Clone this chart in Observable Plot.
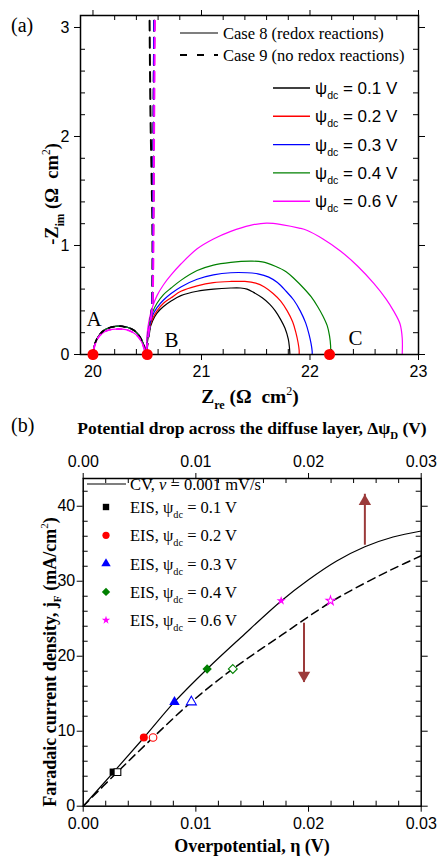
<!DOCTYPE html>
<html><head><meta charset="utf-8">
<script src="https://cdn.jsdelivr.net/npm/d3@7"></script>
<script src="https://cdn.jsdelivr.net/npm/@observablehq/plot@0.6"></script>
<style>
body{margin:0;background:#fff}
#wrap{position:relative;width:437px;height:857px;overflow:hidden}
#wrap svg{position:absolute;left:0}
text{white-space:pre}
</style>
</head><body><div id="wrap"></div>
<script>
// ---------- DATA ----------
// panel (a) ticks
const zreTicks = [20, 21, 22, 23];
const zimTicks = [0, 1, 2, 3];
const psiLabels = ["0.1", "0.2", "0.3", "0.4", "0.6"];
// small (bulk) arc
const arcSmall = [[20.00,0],[20.01,0.07],[20.03,0.13],[20.06,0.18],[20.10,0.22],[20.15,0.245],[20.21,0.258],[20.27,0.258],[20.33,0.245],[20.38,0.22],[20.42,0.18],[20.45,0.13],[20.47,0.08],[20.485,0.03],[20.49,0.01]];
const arcSmallMag = [[20.00,0],[20.01,0.06],[20.03,0.12],[20.06,0.17],[20.10,0.205],[20.15,0.225],[20.21,0.233],[20.27,0.232],[20.33,0.22],[20.38,0.195],[20.42,0.16],[20.45,0.11],[20.47,0.06],[20.48,0.02]];
// Case 8 (redox reactions) large arcs
const arc01 = [[20.50,0.10],[20.52,0.22],[20.55,0.31],[20.59,0.38],[20.65,0.44],[20.72,0.49],[20.81,0.54],[20.96,0.58],[21.11,0.60],[21.27,0.61],[21.36,0.61],[21.42,0.60],[21.48,0.57],[21.56,0.52],[21.63,0.46],[21.68,0.40],[21.73,0.32],[21.77,0.24],[21.80,0.14],[21.81,0.07],[21.815,0]];
const arc02 = [[20.50,0.12],[20.52,0.24],[20.55,0.33],[20.59,0.40],[20.65,0.47],[20.72,0.52],[20.81,0.58],[20.96,0.63],[21.11,0.66],[21.27,0.67],[21.40,0.67],[21.50,0.655],[21.58,0.62],[21.66,0.56],[21.73,0.49],[21.79,0.40],[21.84,0.30],[21.87,0.20],[21.89,0.11],[21.90,0.04],[21.90,0]];
const arc03 = [[20.50,0.14],[20.52,0.26],[20.55,0.36],[20.59,0.43],[20.65,0.50],[20.72,0.56],[20.81,0.62],[20.96,0.69],[21.11,0.73],[21.27,0.75],[21.42,0.75],[21.52,0.74],[21.62,0.71],[21.70,0.66],[21.78,0.58],[21.85,0.50],[21.91,0.40],[21.96,0.29],[21.99,0.19],[22.01,0.10],[22.02,0.03],[22.02,0]];
const arc04 = [[20.50,0.16],[20.52,0.29],[20.55,0.39],[20.59,0.47],[20.65,0.55],[20.72,0.61],[20.81,0.68],[20.96,0.77],[21.11,0.82],[21.27,0.845],[21.45,0.856],[21.56,0.85],[21.68,0.81],[21.78,0.76],[21.86,0.69],[21.94,0.61],[22.01,0.53],[22.07,0.44],[22.12,0.35],[22.16,0.26],[22.18,0.17],[22.19,0.08],[22.19,0]];
const arc06 = [[20.49,0.05],[20.50,0.20],[20.52,0.33],[20.55,0.44],[20.59,0.54],[20.65,0.64],[20.72,0.73],[20.81,0.83],[20.96,0.97],[21.11,1.06],[21.27,1.13],[21.45,1.185],[21.60,1.205],[21.75,1.19],[21.90,1.16],[21.97,1.14],[22.12,1.06],[22.28,0.95],[22.44,0.81],[22.59,0.65],[22.70,0.51],[22.77,0.40],[22.83,0.28],[22.85,0.15],[22.85,0]];
// Case 9 (no redox reactions): capacitive branch
const cap01 = [[20.49,0.01],[20.50,0.08],[20.52,0.22],[20.54,0.38],[20.548,0.6],[20.547,1.2],[20.54,1.65],[20.53,2.2],[20.52,3.3]];
const capBlue = [[20.49,0.01],[20.50,0.10],[20.52,0.25],[20.543,0.42],[20.55,0.7],[20.555,1.3],[20.558,2.0],[20.562,2.7],[20.566,3.3]];
const capMag = [[20.49,0.01],[20.50,0.10],[20.52,0.25],[20.546,0.42],[20.554,0.7],[20.559,1.3],[20.563,2.0],[20.568,2.7],[20.572,3.3]];
// marked points A, B, C
const pointZre = [20.0, 20.5, 22.18];
const pointLetters = ["A", "B", "C"];
const letterZre = [19.94, 20.66, 22.355];
const letterZim = [0.32, 0.13, 0.15];

// panel (b)
const etaTicks = [0, 0.01, 0.02, 0.03];
const jTicks = [0, 10, 20, 30, 40];
const cvEta = [0, 0.0027, 0.0054, 0.0081, 0.0110, 0.0140, 0.0176, 0.0200, 0.0225, 0.0250, 0.0275, 0.0300];
const cvJ   = [0, 4.55, 9.16, 13.9, 18.3, 22.5, 27.4, 30.2, 32.7, 34.6, 35.9, 36.7];
const ddEta = [0, 0.0030, 0.0062, 0.0096, 0.01328, 0.0176, 0.02195, 0.0250, 0.0275, 0.0300];
const ddJ   = [0, 4.5, 9.16, 13.9, 18.3, 22.8, 27.2, 29.75, 31.65, 33.4];
const eisEta  = [0.00266, 0.00538, 0.0081, 0.0110, 0.01757];
const eisEtaD = [0.00304, 0.0062, 0.0096, 0.01328, 0.02195];
const eisJ    = [4.55, 9.16, 13.9, 18.3, 27.4];
const arrowEta  = [0.025, 0.0196];
const arrowFrom = [34.8, 24.4];
const arrowTo   = [41.6, 16.5];

// ---------- STYLE ----------
const SANS = "'Liberation Sans', Arial, Helvetica, sans-serif";
const SERIF = "'Liberation Serif', 'Times New Roman', 'DejaVu Serif', serif";
const psiColors = ["#000000", "#ff0000", "#0000ff", "#008000", "#ff00ff"];
const eisSymbols = ["square", "circle", "triangle", "diamond2", "star"];
const eisR = [4, 4, 3.9, 4.2, 2.9];
const ARROW = "#9b3a3a";
const W = 437;
const wrap = document.getElementById("wrap");

function rich(parent, o, parts) {
  const t = parent.append("text")
    .attr("transform", `translate(${o.x},${o.y}) rotate(${o.rotate || 0})`)
    .attr("text-anchor", o.anchor || "start")
    .attr("font-family", o.family).attr("font-size", o.size)
    .attr("font-weight", o.weight || "normal").attr("fill", "black");
  let cur = 0;
  for (const p of parts) {
    const s = typeof p === "string" ? {t: p} : p;
    const shift = s.sub ? o.size * 0.3 : s.sup ? -o.size * 0.42 : 0;
    const ts = t.append("tspan").attr("dy", shift - cur).text(s.t);
    cur = shift;
    if (s.sub || s.sup) ts.attr("font-size", o.size * 0.62);
    if (s.weight) ts.attr("font-weight", s.weight);
    if (s.italic) ts.attr("font-style", "italic");
    if (s.family) ts.attr("font-family", s.family);
  }
  return t;
}
function minor(range, step) {
  return range.filter(v => Math.abs(v / step - Math.round(v / step)) > 1e-6);
}
const xy = {x: d => d[0], y: d => d[1]};

// ---------- PANEL (a) ----------
{
  const H = 420, top = 15, bottom = 354, left = 80, right = 418;
  const fh = bottom - top, fw = right - left;
  const minorX = minor(d3.range(20.2, 23, 0.2), 1);
  const minorY = minor(d3.range(0.2, 3.05, 0.2), 1);
  const case8 = [arcSmall.concat(arc01), arcSmall.concat(arc02), arcSmall.concat(arc03), arcSmall.concat(arc04), arcSmallMag.concat(arc06)];
  const dash = {strokeWidth: 2, strokeDasharray: "10,7", curve: "catmull-rom", clip: true};
  const case9 = [
    {d: cap01, c: psiColors[0]},
    {d: capBlue, c: psiColors[1]},
    {d: capBlue, c: psiColors[3]},
    {d: capBlue, c: psiColors[2]},
    {d: capMag, c: psiColors[4]}
  ];
  const pts = pointZre.map(z => ({z, v: 0}));
  const letters = pointLetters.map((t, i) => ({t, z: letterZre[i], v: letterZim[i]}));
  const svg = Plot.plot({
    width: W, height: H, marginLeft: left, marginRight: W - right, marginTop: top, marginBottom: H - bottom,
    style: {fontFamily: SANS, fontSize: "16px", background: "transparent", overflow: "visible"},
    x: {domain: [19.885, 23]}, y: {domain: [0, 3.11]},
    marks: [
      ...case8.map((d, i) => Plot.line(d, {...xy, stroke: psiColors[i], strokeWidth: 1.2, curve: "catmull-rom"})),
      Plot.line(arcSmall, {...xy, stroke: "black", ...dash, strokeWidth: 1.8, strokeDasharray: "5,6"}),
      Plot.line(arcSmallMag, {...xy, stroke: psiColors[4], ...dash, strokeWidth: 1.8, strokeDasharray: "5,6", strokeDashoffset: 5}),
      ...case9.map(o => Plot.line(o.d, {...xy, stroke: o.c, ...dash})),
      Plot.frame({strokeWidth: 1.5}),
      Plot.axisX({anchor: "bottom", ticks: zreTicks, tickSize: 6, tickPadding: 5, tickFormat: d => String(d), label: null}),
      Plot.axisX({anchor: "top", ticks: zreTicks, tickSize: 6, tickFormat: () => "", label: null}),
      Plot.axisY({anchor: "left", ticks: zimTicks, tickSize: 6, tickPadding: 5, tickFormat: d => String(d), label: null}),
      Plot.axisY({anchor: "right", ticks: zimTicks, tickSize: 6, tickFormat: () => "", label: null}),
      Plot.tickX(minorX, {x: d => d, insetTop: fh - 5}),
      Plot.tickX(minorX, {x: d => d, insetBottom: fh - 5}),
      Plot.tickY(minorY, {y: d => d, insetRight: fw - 5}),
      Plot.tickY(minorY, {y: d => d, insetLeft: fw - 5}),
      Plot.dot(pts, {x: "z", y: "v", r: 5.5, fill: "#ff0000"}),
      Plot.text(letters, {x: "z", y: "v", text: "t", fontFamily: SERIF, fontSize: 21, textAnchor: "start"})
    ]
  });
  svg.style.top = "0px";
  wrap.appendChild(svg);
  const g = d3.select(svg).append("g");
  rich(g, {x: 11, y: 32, family: SERIF, size: 20}, ["(a)"]);
  rich(g, {x: 58, y: 194, rotate: -90, anchor: "middle", family: SERIF, size: 18.5, weight: "bold"},
    ["-Z", {t: "im", sub: true}, " (Ω  cm", {t: "2", sup: true, weight: "normal"}, ")"]);
  rich(g, {x: 250, y: 403, anchor: "middle", family: SERIF, size: 19.5, weight: "bold"},
    ["Z", {t: "re", sub: true}, " (Ω  cm", {t: "2", sup: true, weight: "normal"}, ")"]);
  // legend: cases
  g.append("line").attr("x1", 180).attr("x2", 218).attr("y1", 33).attr("y2", 33).attr("stroke", "black").attr("stroke-width", 1.2);
  rich(g, {x: 223, y: 39, family: SERIF, size: 16.5}, ["Case 8 (redox reactions)"]);
  g.append("line").attr("x1", 180).attr("x2", 218).attr("y1", 55).attr("y2", 55).attr("stroke", "black").attr("stroke-width", 2).attr("stroke-dasharray", "7,10");
  rich(g, {x: 223, y: 61, family: SERIF, size: 16.5}, ["Case 9 (no redox reactions)"]);
  psiLabels.forEach((p, i) => {
    const y = 88 + i * 28.3;
    g.append("line").attr("x1", 273).attr("x2", 310).attr("y1", y).attr("y2", y).attr("stroke", psiColors[i]).attr("stroke-width", 1.4);
    rich(g, {x: 315, y: y + 6, family: SANS, size: 17}, ["ψ", {t: "dc", sub: true}, " = " + p + " V"]);
  });
}

// ---------- PANEL (b) ----------
{
  const OFF = 420, H = 437, top = 478 - OFF, bottom = 805.7 - OFF, left = 82.7, right = 420.7;
  const fh = bottom - top, fw = right - left;
  const minorX = minor(d3.range(0.002, 0.03, 0.002), 0.01);
  const minorY = minor(d3.range(2, 43, 2), 10);
  const cv = cvEta.map((e, i) => [e, cvJ[i]]);
  const dd = ddEta.map((e, i) => [e, ddJ[i]]);
  const arrows = arrowEta.map((e, i) => ({e, a: arrowFrom[i], b: arrowTo[i], up: arrowTo[i] > arrowFrom[i]}));
  const headR = 4.6;
  const headOffset = 2 / 3 * Math.sqrt(Math.PI * headR * headR * 4 / Math.sqrt(3)) * Math.sqrt(3) / 2;
  const eisMarks = [];
  eisJ.forEach((j, i) => {
    eisMarks.push(Plot.dot([{e: eisEta[i], j}], {x: "e", y: "j", symbol: eisSymbols[i], r: eisR[i], fill: psiColors[i], stroke: "none"}));
    eisMarks.push(Plot.dot([{e: eisEtaD[i], j}], {x: "e", y: "j", symbol: eisSymbols[i], r: eisR[i] * 0.95, fill: "white", stroke: psiColors[i], strokeWidth: 1.1}));
  });
  const svg = Plot.plot({
    width: W, height: H, marginLeft: left, marginRight: W - right, marginTop: top, marginBottom: H - bottom,
    style: {fontFamily: SANS, fontSize: "16px", background: "transparent", overflow: "visible"},
    x: {domain: [0, 0.03]}, y: {domain: [0, 43.7]},
    marks: [
      Plot.line(cv, {...xy, stroke: "black", strokeWidth: 1.2, curve: "catmull-rom"}),
      Plot.line(dd, {...xy, stroke: "black", strokeWidth: 1.5, strokeDasharray: "8,5", curve: "catmull-rom"}),
      Plot.ruleX(arrows, {x: "e", y1: "a", y2: "b", stroke: ARROW, strokeWidth: 2}),
      Plot.dot(arrows.filter(d => d.up), {x: "e", y: "b", symbol: "triangle", r: headR, fill: ARROW, stroke: "none", dy: headOffset}),
      Plot.dot(arrows.filter(d => !d.up), {x: "e", y: "b", symbol: "triangle", r: headR, fill: ARROW, stroke: "none", rotate: 180, dy: -headOffset}),
      ...eisMarks,
      Plot.frame({strokeWidth: 1.5}),
      Plot.axisX({anchor: "bottom", ticks: etaTicks, tickSize: 6, tickPadding: 5, tickFormat: d3.format(".2f"), label: null}),
      Plot.axisX({anchor: "top", ticks: etaTicks, tickSize: 6, tickPadding: 6, tickFormat: d3.format(".2f"), label: null}),
      Plot.axisY({anchor: "left", ticks: jTicks, tickSize: 6, tickPadding: 2, tickFormat: d => String(d), label: null}),
      Plot.axisY({anchor: "right", ticks: jTicks, tickSize: 6, tickFormat: () => "", label: null}),
      Plot.tickX(minorX, {x: d => d, insetTop: fh - 5}),
      Plot.tickX(minorX, {x: d => d, insetBottom: fh - 5}),
      Plot.tickY(minorY, {y: d => d, insetRight: fw - 5}),
      Plot.tickY(minorY, {y: d => d, insetLeft: fw - 5})
    ]
  });
  svg.style.top = OFF + "px";
  wrap.appendChild(svg);
  const g = d3.select(svg).append("g");
  rich(g, {x: 11, y: 12, family: SERIF, size: 20}, ["(b)"]);
  rich(g, {x: 252, y: 13.5, anchor: "middle", family: SERIF, size: 17.5, weight: "bold"},
    ["Potential drop across the diffuse layer, Δψ", {t: "D", sub: true}, " (V)"]);
  rich(g, {x: 56, y: 242, rotate: -90, anchor: "middle", family: SERIF, size: 18, weight: "bold"},
    ["Faradaic current density, j", {t: "F", sub: true}, " (mA/cm", {t: "2", sup: true, weight: "normal"}, ")"]);
  rich(g, {x: 252, y: 432, anchor: "middle", family: SERIF, size: 18, weight: "bold"}, ["Overpotential, η (V)"]);
  // legend
  g.append("line").attr("x1", 87).attr("x2", 126).attr("y1", 64).attr("y2", 64).attr("stroke", "black").attr("stroke-width", 1.2);
  rich(g, {x: 130, y: 70, family: SERIF, size: 16.5}, ["CV, ", {t: "v", italic: true}, " = 0.001 mV/s"]);
  const d3sym = [d3.symbolSquare, d3.symbolCircle, d3.symbolTriangle, d3.symbolDiamond2, d3.symbolStar];
  psiLabels.forEach((p, i) => {
    const y = 87 + i * 28.3;
    const r = eisR[i] * 0.9;
    g.append("path").attr("transform", `translate(106,${y})`).attr("d", d3.symbol(d3sym[i], Math.PI * r * r)()).attr("fill", psiColors[i]);
    rich(g, {x: 130, y: y + 6, family: SERIF, size: 16.5}, ["EIS, ψ", {t: "dc", sub: true}, " = " + p + " V"]);
  });
}
</script>
</body></html>
